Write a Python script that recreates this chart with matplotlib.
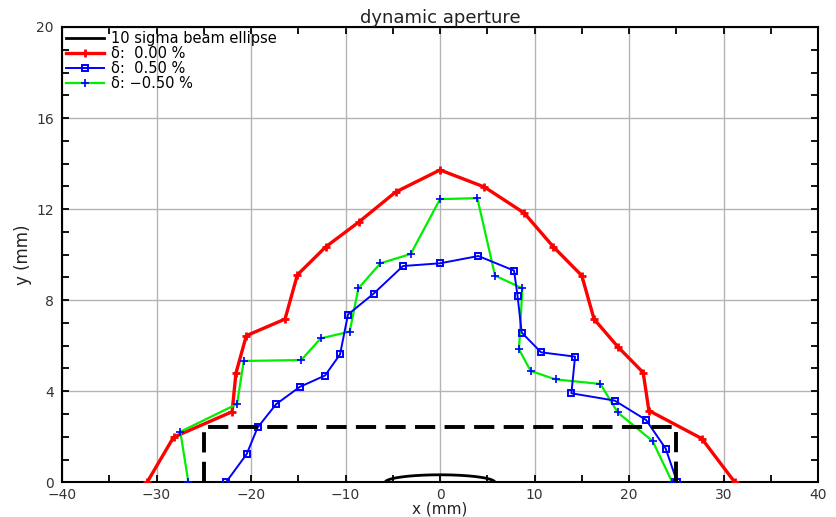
import numpy as np
import matplotlib
matplotlib.use("Agg")
import matplotlib.pyplot as plt
from matplotlib.ticker import MultipleLocator

# ---- data ----
red_x = [-31.0, -28.2, -22.0, -21.6, -20.5, -16.4, -15.1, -12.1, -8.6, -4.7, 0.0,
         4.7, 8.9, 12.0, 15.0, 16.3, 18.8, 21.5, 22.1, 27.7, 31.2]
red_y = [0.0, 1.98, 3.10, 4.79, 6.44, 7.17, 9.11, 10.34, 11.43, 12.75, 13.72,
         12.97, 11.83, 10.34, 9.08, 7.17, 5.96, 4.82, 3.15, 1.92, 0.0]

blue_x = [-22.65, -20.46, -19.3, -17.35, -14.85, -12.17, -10.58, -9.74, -7.02, -3.92, 0.0,
          4.05, 7.83, 8.2, 8.64, 10.69, 14.29, 13.9, 18.48, 21.8, 23.88, 25.1]
blue_y = [0.0, 1.24, 2.41, 3.43, 4.19, 4.69, 5.62, 7.37, 8.29, 9.50, 9.62,
          9.94, 9.30, 8.2, 6.58, 5.71, 5.52, 3.91, 3.59, 2.74, 1.48, 0.0]

green_x = [-26.63, -27.48, -21.48, -20.77, -14.68, -12.63, -9.56, -8.64, -6.31, -3.10, 0.0,
           3.95, 5.82, 8.71, 8.36, 9.59, 12.24, 16.97, 18.8, 22.5, 24.58]
green_y = [0.0, 2.22, 3.44, 5.33, 5.37, 6.32, 6.62, 8.52, 9.62, 10.03, 12.44,
           12.48, 9.08, 8.52, 5.84, 4.89, 4.52, 4.32, 3.07, 1.81, 0.0]

box_x = [-25.0, -25.0, 25.0, 25.0]
box_y = [0.0, 2.44, 2.44, 0.0]

ellipse_a = 5.8   # half width (mm)
ellipse_b = 0.33  # half height (mm)

labels = ["10 sigma beam ellipse", "δ:  0.00 %", "δ:  0.50 %", "δ: −0.50 %"]
title = "dynamic aperture"

# ---- figure ----
plt.rcParams['font.family'] = ['DejaVu Sans']
fig = plt.figure(figsize=(8.36, 5.17), dpi=100)
ax = fig.add_axes([0.0742, 0.0671, 0.9043, 0.8807])

t = np.linspace(0, 2 * np.pi, 400)
ax.plot(ellipse_a * np.cos(t), ellipse_b * np.sin(t), color='black', lw=2.0,
        label=labels[0], zorder=3)
ax.plot(red_x, red_y, color='red', lw=2.4, marker='+', ms=6, mew=2,
        label=labels[1], zorder=4)
ax.plot(blue_x, blue_y, color='blue', lw=1.4, marker='s', ms=4, mew=1.4,
        mfc='none', label=labels[2], zorder=5)
ax.plot(green_x, green_y, color='#00ee00', lw=1.6, marker='+', ms=6, mew=1.2,
        mec='blue', label=labels[3], zorder=4)
ax.plot(box_x, box_y, color='black', lw=2.8, linestyle=(0, (5.2, 2.4)), zorder=6,
        clip_on=False)

ax.set_xlim(-40, 40)
ax.set_ylim(0, 20)
ax.xaxis.set_major_locator(MultipleLocator(10))
ax.xaxis.set_minor_locator(MultipleLocator(5))
ax.yaxis.set_major_locator(MultipleLocator(4))
ax.yaxis.set_minor_locator(MultipleLocator(1))
ax.grid(True, which='major', color='#b4b4b4', lw=1.0, zorder=0)
ax.set_axisbelow(True)
ax.tick_params(which='both', direction='in', top=True, right=True,
               width=1.3, colors='black', labelcolor='#333333', labelsize=10)
ax.tick_params(axis='x', which='major', length=5, pad=4)
ax.tick_params(axis='y', which='major', length=5, pad=6)
ax.tick_params(which='minor', length=5)
for s in ax.spines.values():
    s.set_linewidth(1.5)

ax.set_title(title, fontsize=13, pad=2, color='#222222')
ax.set_xlabel("x (mm)", fontsize=11, labelpad=0, color='#222222')
ax.set_ylabel("y (mm)", fontsize=12, labelpad=3, color='#222222')

ax.legend(loc='upper left', frameon=False, fontsize=10.5, handlelength=2.6,
          handletextpad=0.45, labelspacing=0.0, borderaxespad=0.1,
          borderpad=0.2)

fig.savefig("out.png", dpi=100)
